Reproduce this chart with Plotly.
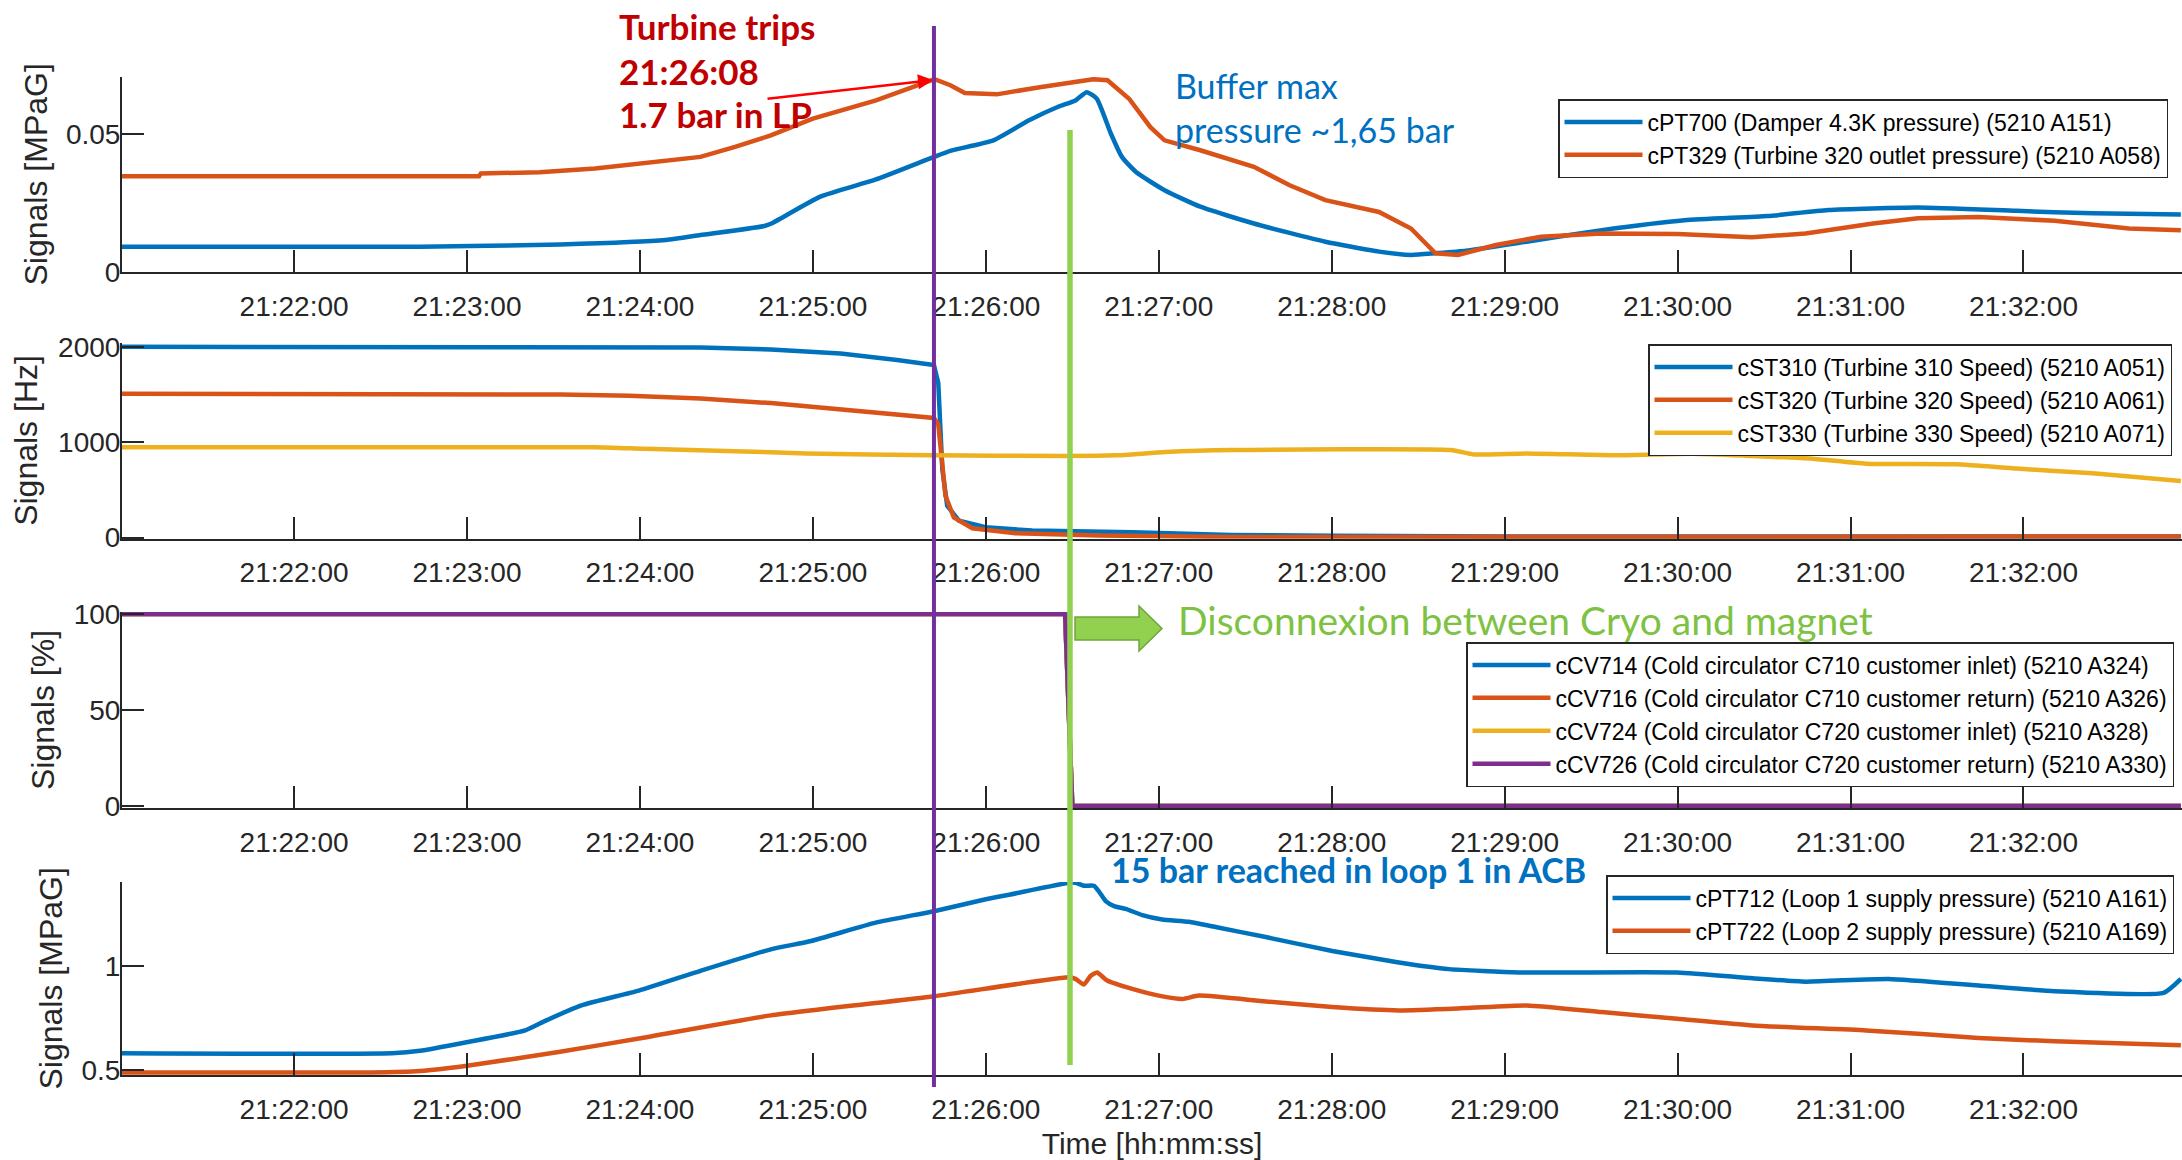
import plotly.graph_objects as go

DAY = "2021-01-01 "

# ---------------- Panel 1 : pressures [MPaG] ----------------
p1_t_cpt700 = ["21:21:00.0", "21:22:43.8", "21:23:32.4", "21:24:09.0", "21:24:21.0", "21:24:43.2",
               "21:24:45.6", "21:25:02.4", "21:25:21.6", "21:25:42.0", "21:25:47.7", "21:26:02.6",
               "21:26:15.0", "21:26:24.9", "21:26:31.1", "21:26:35.0", "21:26:38.5", "21:26:43.4",
               "21:26:47.2", "21:26:52.1", "21:27:02.0", "21:27:14.4", "21:27:33.0", "21:27:57.8",
               "21:28:16.4", "21:28:27.5", "21:28:36.0", "21:28:46.6", "21:29:07.6", "21:29:33.7",
               "21:30:02.4", "21:30:31.2", "21:30:52.2", "21:31:23.4", "21:31:57.6", "21:32:24.0",
               "21:32:54.6"]
p1_cpt700 = [0.0092, 0.0092, 0.0100, 0.0116, 0.0134, 0.0167,
             0.0176, 0.0273, 0.0335, 0.0418, 0.0440, 0.0478,
             0.0551, 0.0599, 0.0623, 0.0653, 0.0629, 0.0502,
             0.0418, 0.0363, 0.0297, 0.0237, 0.0176, 0.0110,
             0.0074, 0.0062, 0.0068, 0.0077, 0.0110, 0.0152,
             0.0188, 0.0203, 0.0225, 0.0234, 0.0222, 0.0213,
             0.0209]

p1_t_cpt329 = ["21:21:00.0", "21:23:04.2", "21:23:04.8", "21:23:25.2", "21:23:44.4", "21:23:58.8",
               "21:24:21.0", "21:24:33.0", "21:24:45.4", "21:25:00.0", "21:25:21.9", "21:25:42.2",
               "21:25:47.7", "21:25:52.7", "21:26:03.8", "21:26:18.7", "21:26:31.1", "21:26:37.3",
               "21:26:42.2", "21:26:49.7", "21:26:57.1", "21:27:02.0", "21:27:14.4", "21:27:33.0",
               "21:27:45.4", "21:27:57.8", "21:28:16.4", "21:28:27.5", "21:28:36.0", "21:28:43.8",
               "21:28:57.0", "21:29:12.6", "21:29:33.6", "21:30:00.0", "21:30:25.8", "21:30:44.4",
               "21:31:07.8", "21:31:23.4", "21:31:44.4", "21:32:10.8", "21:32:36.6", "21:32:54.6"]
p1_cpt329 = [0.0348, 0.0348, 0.0358, 0.0362, 0.0376, 0.0394,
             0.0418, 0.0454, 0.0496, 0.0557, 0.0623, 0.0700,
             0.0678, 0.0650, 0.0645, 0.0671, 0.0690, 0.0700,
             0.0696, 0.0629, 0.0526, 0.0478, 0.0442, 0.0382,
             0.0315, 0.0261, 0.0218, 0.0158, 0.0068, 0.0062,
             0.0098, 0.0128, 0.0140, 0.0138, 0.0126, 0.0140,
             0.0176, 0.0195, 0.0200, 0.0186, 0.0158, 0.0152]

# ---------------- Panel 2 : turbine speeds [Hz] ----------------
p2_t_cst310 = ["21:21:00.0", "21:23:51.6", "21:24:21.0", "21:24:45.4", "21:25:09.6", "21:25:29.2",
               "21:25:42.0", "21:25:43.5", "21:25:44.3", "21:25:44.9", "21:25:46.6", "21:25:50.7",
               "21:25:59.9", "21:26:16.1", "21:26:50.8", "21:27:25.4", "21:28:00.0", "21:29:00.0",
               "21:32:54.6"]
p2_cst310 = [2000, 2000, 1993, 1972, 1931, 1861,
             1809, 1619, 1132, 716, 333, 177,
             108, 73, 56, 28, 18, 12,
             10]

p2_t_cst320 = ["21:21:00.0", "21:23:32.4", "21:23:56.4", "21:24:21.0", "21:24:45.4", "21:25:09.6",
               "21:25:29.2", "21:25:42.0", "21:25:43.5", "21:25:44.9", "21:25:46.0", "21:25:48.9",
               "21:25:55.3", "21:26:10.3", "21:26:39.2", "21:27:25.2", "21:28:30.0", "21:32:54.6"]
p2_cst320 = [1507, 1500, 1486, 1458, 1410, 1340,
             1288, 1254, 1184, 785, 437, 212,
             98, 46, 21, 6, 8, 12]

p2_t_cst330 = ["21:21:00.0", "21:23:44.4", "21:24:01.8", "21:24:33.0", "21:24:57.6", "21:25:41.4",
               "21:26:27.6", "21:26:45.0", "21:27:02.4", "21:27:25.2", "21:28:41.4", "21:28:49.2",
               "21:29:07.6", "21:29:39.0", "21:30:05.1", "21:30:25.8", "21:30:46.8", "21:31:05.4",
               "21:31:36.6", "21:31:57.6", "21:32:24.0", "21:32:54.6"]
p2_cst330 = [948, 948, 931, 906, 882, 862,
             855, 862, 896, 917, 917, 872,
             882, 862, 879, 855, 827, 775,
             768, 723, 674, 594]

# ---------------- Panel 3 : valve openings [%] ----------------
p3_t_valves = ["21:21:00.0", "21:26:27.5", "21:26:30.0", "21:32:54.6"]
p3_ccv714 = [100, 100, 0, 0]
p3_ccv716 = [100, 100, 0, 0]
p3_ccv724 = [100, 100, 0, 0]
p3_ccv726 = [100, 100, 0, 0]

# ---------------- Panel 4 : loop supply pressures [MPaG] ----------------
p4_t_cpt712 = ["21:21:00.0", "21:22:34.0", "21:22:43.7", "21:22:59.4", "21:23:20.2", "21:23:27.5",
               "21:23:39.7", "21:23:59.6", "21:24:21.0", "21:24:45.4", "21:24:59.4", "21:25:21.8",
               "21:25:42.0", "21:25:59.6", "21:26:08.1", "21:26:28.8", "21:26:31.1", "21:26:34.0",
               "21:26:37.5", "21:26:39.2", "21:26:41.6", "21:26:44.5", "21:26:48.5", "21:26:54.3",
               "21:27:01.2", "21:27:10.5", "21:27:19.7", "21:27:37.1", "21:28:00.2", "21:28:23.3",
               "21:28:40.7", "21:29:04.9", "21:29:59.9", "21:30:26.0", "21:30:44.4", "21:31:13.2",
               "21:31:44.4", "21:32:10.8", "21:32:48.6", "21:32:54.6"]
p4_cpt712 = [0.580, 0.580, 0.592, 0.632, 0.690, 0.738,
             0.810, 0.881, 0.976, 1.079, 1.119, 1.207,
             1.262, 1.318, 1.341, 1.398, 1.398, 1.384,
             1.384, 1.357, 1.310, 1.286, 1.273, 1.243,
             1.222, 1.211, 1.186, 1.138, 1.071, 1.016,
             0.984, 0.968, 0.968, 0.940, 0.924, 0.937,
             0.905, 0.878, 0.870, 0.937]

p4_t_cpt722 = ["21:21:00.0", "21:22:26.6", "21:22:43.7", "21:22:59.4", "21:23:32.3", "21:23:59.6",
               "21:24:45.4", "21:25:42.0", "21:26:28.8", "21:26:31.1", "21:26:34.0", "21:26:36.4",
               "21:26:38.6", "21:26:42.1", "21:26:50.8", "21:27:00.0", "21:27:08.2", "21:27:13.9",
               "21:27:37.1", "21:28:00.2", "21:28:23.3", "21:28:46.4", "21:29:07.6", "21:29:33.7",
               "21:29:59.9", "21:30:26.0", "21:31:05.4", "21:31:44.4", "21:32:10.8", "21:32:54.6"]
p4_cpt722 = [0.488, 0.488, 0.495, 0.519, 0.588, 0.651,
             0.762, 0.854, 0.945, 0.937, 0.910, 0.952,
             0.968, 0.929, 0.889, 0.857, 0.841, 0.857,
             0.829, 0.802, 0.786, 0.797, 0.810, 0.778,
             0.746, 0.714, 0.690, 0.654, 0.638, 0.619]

# event times
t_trip = "21:25:42.0"
t_disconnect = "21:26:29.2"

# ---------------- styling ----------------
BLUE, ORANGE, YELLOW, PURPLE = "#0072BD", "#D95319", "#EDB120", "#7E2F8E"
AXC = "#262626"
W, H = 2182, 1160
ML, MR, MT, MB = 122, 0, 77, 85
PW, PH = W - ML - MR, H - MT - MB


def px(x):
    return (x - ML) / PW


def py(y):
    return (H - MB - y) / PH


def T(lst):
    return [DAY + s for s in lst]


fig = go.Figure()
LW = 4.5


def add(t, v, name, color, row, legend, smooth=False):
    line = dict(color=color, width=LW)
    if smooth:
        line.update(shape="spline", smoothing=0.5)
    fig.add_trace(go.Scatter(x=T(t), y=v, name=name, mode="lines", line=line,
                             xaxis="x" if row == 1 else f"x{row}",
                             yaxis="y" if row == 1 else f"y{row}",
                             legend=legend, hoverinfo="skip"))


add(p1_t_cpt700, p1_cpt700, "cPT700 (Damper 4.3K pressure) (5210 A151)", BLUE, 1, "legend", True)
add(p1_t_cpt329, p1_cpt329, "cPT329 (Turbine 320 outlet pressure) (5210 A058)", ORANGE, 1, "legend")
add(p2_t_cst310, p2_cst310, "cST310 (Turbine 310 Speed) (5210 A051)", BLUE, 2, "legend2")
add(p2_t_cst320, p2_cst320, "cST320 (Turbine 320 Speed) (5210 A061)", ORANGE, 2, "legend2")
add(p2_t_cst330, p2_cst330, "cST330 (Turbine 330 Speed) (5210 A071)", YELLOW, 2, "legend2", True)
add(p3_t_valves, p3_ccv714, "cCV714 (Cold circulator C710 customer inlet) (5210 A324)", BLUE, 3, "legend3")
add(p3_t_valves, p3_ccv716, "cCV716 (Cold circulator C710 customer return) (5210 A326)", ORANGE, 3, "legend3")
add(p3_t_valves, p3_ccv724, "cCV724 (Cold circulator C720 customer inlet) (5210 A328)", YELLOW, 3, "legend3")
add(p3_t_valves, p3_ccv726, "cCV726 (Cold circulator C720 customer return) (5210 A330)", PURPLE, 3, "legend3")
add(p4_t_cpt712, p4_cpt712, "cPT712 (Loop 1 supply pressure) (5210 A161)", BLUE, 4, "legend4", True)
add(p4_t_cpt722, p4_cpt722, "cPT722 (Loop 2 supply pressure) (5210 A169)", ORANGE, 4, "legend4", True)

TICKFONT = dict(family="Liberation Sans", size=28, color=AXC)
YTITLEFONT = dict(family="Liberation Sans", size=32, color=AXC)
XTITLEFONT = dict(family="Liberation Sans", size=30, color=AXC)
xrange_ = [DAY + "21:21:00.3", DAY + "21:32:55.0"]

domains = [(py(272), py(77)), (py(538.7), py(343)), (py(808), py(612)), (py(1075), py(882))]
yranges = [[0, 0.0708], [-12, 2040], [-1, 101], [0.476, 1.402]]
yticks = [[0, 0.05], [0, 1000, 2000], [0, 50, 100], [0.5, 1]]
ytext = [["0", "0.05"], ["0", "1000", "2000"], ["0", "50", "100"], ["0.5", "1"]]
ytitles = ["Signals [MPaG]", "Signals [Hz]", "Signals [%]", "Signals [MPaG]"]
ytitle_x = [35, 26, 43, 50]   # pixel centre of each rotated y title

layout = dict(
    width=W, height=H,
    margin=dict(l=ML, r=MR, t=MT, b=MB, pad=0),
    paper_bgcolor="white", plot_bgcolor="white",
    showlegend=True,
)
for i in range(4):
    k = "" if i == 0 else str(i + 1)
    layout["xaxis" + k] = dict(
        domain=[0, 1], anchor="y" + k, type="date", range=xrange_,
        tick0=DAY + "21:22:00", dtick=60000, tickformat="%H:%M:%S",
        ticks="inside", ticklen=22, tickwidth=2, tickcolor=AXC,
        showline=True, linecolor=AXC, linewidth=2, showgrid=False, zeroline=False,
        tickfont=TICKFONT, ticklabelstandoff=8,
        matches=None if i == 0 else "x",
    )
    layout["yaxis" + k] = dict(
        domain=list(domains[i]), anchor="x" + k, range=yranges[i],
        tickmode="array", tickvals=yticks[i], ticktext=ytext[i],
        ticks="inside", ticklen=22, tickwidth=2, tickcolor=AXC,
        showline=True, linecolor=AXC, linewidth=2, showgrid=False, zeroline=False,
        tickfont=TICKFONT, ticklabelstandoff=-6,
    )
layout["xaxis4"]["title"] = dict(text="Time [hh:mm:ss]", font=XTITLEFONT, standoff=14)

LEGFONT = dict(family="Liberation Sans", size=23, color="#000000")


def leg(xr, yt):
    return dict(x=px(xr), y=py(yt), xanchor="right", yanchor="top", xref="paper", yref="paper",
                bgcolor="white", bordercolor=AXC, borderwidth=1.5, font=LEGFONT,
                itemwidth=78, tracegroupgap=0, traceorder="normal")


layout["legend"] = leg(2168, 99)
layout["legend2"] = leg(2172, 344)
layout["legend3"] = leg(2174, 642)
layout["legend4"] = leg(2174, 875)

fig.update_layout(**layout)

# y-axis titles (rotated), one per panel
for i in range(4):
    fig.add_annotation(text=ytitles[i], textangle=-90, xref="paper", yref="paper",
                       x=px(ytitle_x[i]), y=(domains[i][0] + domains[i][1]) / 2,
                       xanchor="center", yanchor="middle", showarrow=False, font=YTITLEFONT)

# event lines
fig.add_shape(type="line", xref="x", yref="paper", x0=DAY + t_trip, x1=DAY + t_trip,
              y0=py(1087), y1=py(26), line=dict(color="#7030A0", width=4), layer="above")
fig.add_shape(type="line", xref="x", yref="paper", x0=DAY + t_disconnect, x1=DAY + t_disconnect,
              y0=py(1065), y1=py(130), line=dict(color="#92D050", width=5.5), layer="above")

# green block arrow
pts = [(1075, 617), (1139, 617), (1139, 606), (1162, 628.5), (1139, 651), (1139, 640), (1075, 640)]
path = "M " + " L ".join(f"{px(a):.5f},{py(b):.5f}" for a, b in pts) + " Z"
fig.add_shape(type="path", xref="paper", yref="paper", path=path,
              fillcolor="#92D050", line=dict(color="#6FA53A", width=1.5), layer="above")

ANN_FONT = "Lato"
RED = "#C00000"
LBLUE = "#0070C0"
GREEN = "#7DC242"


def note(text, x, y, size, color, bold=False):
    fig.add_annotation(text=("<b>%s</b>" % text) if bold else text, xref="paper", yref="paper",
                       x=px(x), y=py(y), xanchor="left", yanchor="middle", showarrow=False,
                       font=dict(family=ANN_FONT, size=size, color=color))


note("Turbine trips", 617, 26, 35, RED, True)
note("21:26:08", 617, 71, 35, RED, True)
note("1.7 bar in LP", 617, 114, 35, RED, True)
note("Buffer max", 1173, 86, 34, LBLUE)
note("pressure ~1,65 bar", 1173, 129, 34, LBLUE)
note("Disconnexion between Cryo and magnet", 1176, 620, 39, GREEN)
note("15 bar reached in loop 1 in ACB", 1109, 869, 34, LBLUE, True)

# red arrow to the LP pressure peak
fig.add_annotation(text="", xref="paper", yref="paper", x=px(933), y=py(80),
                   ax=766 - 933, ay=99 - 80, showarrow=True, arrowhead=2, arrowsize=1.2,
                   arrowwidth=2.5, arrowcolor="#FF0000")

fig.write_html("out.html", config={"displayModeBar": False},
               post_script="document.body.style.margin='0px';document.body.style.overflow='hidden';")
